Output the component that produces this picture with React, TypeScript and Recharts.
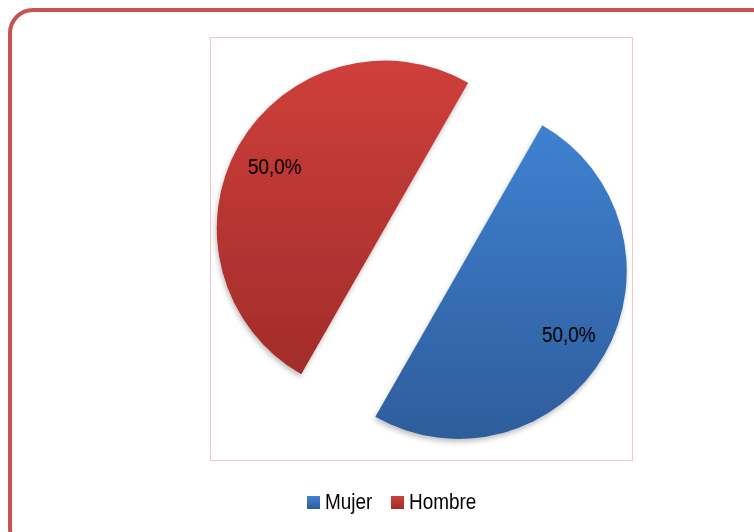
import { PieChart, Pie, Cell, Legend } from 'recharts'

const categories = ['Mujer', 'Hombre']
const values = [50, 50]
const valueLabels = ['50,0%', '50,0%']
const gradients = [
  ['#3f81d1', '#2e5d9b'],
  ['#ce3f3b', '#a22c2a'],
]

const data = categories.map((name, i) => ({ name, value: values[i] }))

const RAD = Math.PI / 180
const CX = 421.75
const CY = 249.75
const R = 168
const EXPLODE = 42.7
const START = 60.2
const FONT = '"Liberation Sans", Arial, sans-serif'
const NARROW = 0.86

const total = values.reduce((a, b) => a + b, 0)
// mid angle of each slice, going clockwise from START
const midAngles = values.map((v, i) => {
  const before = values.slice(0, i).reduce((a, b) => a + b, 0)
  return START - ((before + v / 2) / total) * 360
})

const renderLabel = (only: number) => (props: any) => {
  const { cx, cy, midAngle, outerRadius, index } = props
  if (index !== only) return null
  const r = outerRadius * 0.755
  const x = cx + r * Math.cos(-midAngle * RAD)
  const y = cy + r * Math.sin(-midAngle * RAD)
  return (
    <text
      transform={`translate(${x},${y}) scale(${NARROW},1)`}
      fill="#000"
      textAnchor="middle"
      dominantBaseline="central"
      fontSize={22}
      fontFamily={FONT}
    >
      {valueLabels[index]}
    </text>
  )
}

const LegendContent = () => (
  <div style={{ display: 'flex', alignItems: 'center', paddingLeft: 307, fontFamily: FONT, fontSize: 22, color: '#000', height: 26 }}>
    {categories.map((c, i) => (
      <span key={c} style={{ display: 'flex', alignItems: 'center', width: i === 0 ? 84 : 100 }}>
        <span
          style={{
            width: 13,
            height: 13,
            background: `linear-gradient(${gradients[i][0]}, ${gradients[i][1]})`,
            marginRight: 5,
            flex: 'none',
          }}
        />
        <span style={{ display: 'inline-block', transform: `scaleX(${NARROW})`, transformOrigin: '0 50%', whiteSpace: 'nowrap' }}>
          {c}
        </span>
      </span>
    ))}
  </div>
)

export default function App() {
  return (
    <div style={{ position: 'absolute', left: 0, top: 0, width: 754, height: 532, overflow: 'hidden', background: '#fff' }}>
      <div style={{ position: 'absolute', left: 8, top: 8, width: 770, height: 545, border: '4.5px solid #c55450', borderRadius: 25, boxSizing: 'border-box' }} />
      <div style={{ position: 'absolute', left: 210, top: 37, width: 423, height: 424, border: '1.5px solid #f0c6c6', boxSizing: 'border-box' }} />
      <div style={{ position: 'absolute', left: 0, top: 0 }}>
        <PieChart width={754} height={532} margin={{ top: 0, right: 0, bottom: 0, left: 0 }}>
          <defs>
            {gradients.map((g, i) => (
              <linearGradient key={i} id={`grad${i}`} x1="0" y1="0" x2="0" y2="1">
                <stop offset="0%" stopColor={g[0]} />
                <stop offset="100%" stopColor={g[1]} />
              </linearGradient>
            ))}
            <filter id="shadow" x="-10%" y="-10%" width="120%" height="120%">
              <feDropShadow dx="-1" dy="3" stdDeviation="2.5" floodColor="#000" floodOpacity="0.25" />
            </filter>
          </defs>
          {categories.map((c, k) => (
            <Pie
              key={c}
              data={data}
              dataKey="value"
              nameKey="name"
              cx={CX + EXPLODE * Math.cos(-midAngles[k] * RAD)}
              cy={CY + EXPLODE * Math.sin(-midAngles[k] * RAD)}
              outerRadius={R}
              innerRadius={0}
              startAngle={START}
              endAngle={START - 360}
              stroke="none"
              labelLine={false}
              label={renderLabel(k)}
              isAnimationActive={false}
              legendType="none"
            >
              {data.map((d, i) => (
                <Cell
                  key={d.name}
                  fill={i === k ? `url(#grad${i})` : 'transparent'}
                  stroke="none"
                  style={i === k ? { filter: 'url(#shadow)' } : undefined}
                />
              ))}
            </Pie>
          ))}
          <Legend
            content={<LegendContent />}
            wrapperStyle={{ position: 'absolute', left: 0, top: 489, width: 754, height: 26 }}
          />
        </PieChart>
      </div>
    </div>
  )
}
